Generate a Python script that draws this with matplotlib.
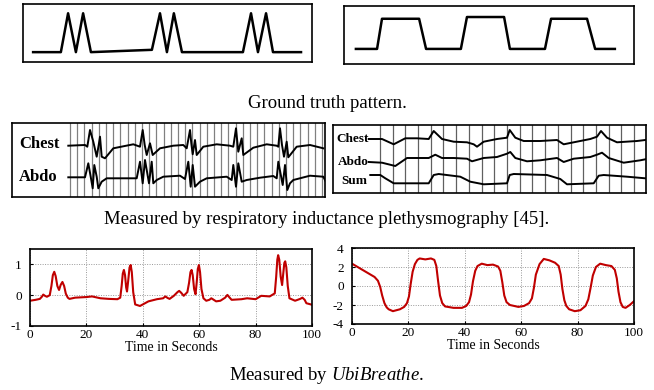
import numpy as np
import matplotlib
matplotlib.use("Agg")
import matplotlib.pyplot as plt

plt.rcParams['font.family'] = ['Liberation Serif', 'DejaVu Serif']
plt.rcParams['axes.unicode_minus'] = False
plt.rcParams['mathtext.fontset'] = 'custom'
plt.rcParams['mathtext.rm'] = 'Liberation Serif'
plt.rcParams['mathtext.it'] = 'Liberation Serif:italic'

# ground truth patterns (time 0-100, amplitude 0-1)
gt_fast_t = [3.5, 13.1, 15.6, 18.3, 20.8, 23.5, 44.6, 47.4, 49.8, 52.2, 55.0,
             76.1, 78.9, 81.3, 84.1, 86.5, 96.2]
gt_fast_v = [0.17, 0.17, 0.84, 0.17, 0.84, 0.17, 0.21, 0.84, 0.17, 0.84, 0.17,
             0.17, 0.84, 0.17, 0.84, 0.17, 0.17]
gt_slow_t = [4.1, 11.4, 13.1, 25.9, 28.3, 40.3, 42.4, 55.2, 57.2, 69.3, 71.4,
             83.8, 86.6, 93.4]
gt_slow_v = [0.26, 0.26, 0.78, 0.78, 0.26, 0.26, 0.81, 0.81, 0.26, 0.26, 0.78,
             0.78, 0.26, 0.26]

# respiratory inductance plethysmography, fast breathing
rip_fast_chest_t = [-1.7, 15.0, 17.3, 20.0, 23.3, 26.7, 28.7, 30.0, 31.7, 35.0, 43.3,
                    63.3, 70.0, 72.7, 74.7, 76.7, 80.0, 82.7, 90.0, 103.3, 113.3,
                    116.7, 120.0, 121.3, 122.7, 125.0, 126.7, 133.3, 146.7, 160.0,
                    163.3, 166.0, 167.3, 168.3, 171.7, 173.3, 183.3, 196.7, 206.7,
                    208.3, 210.0, 212.0, 214.0, 216.7, 218.3, 226.7, 240.0, 253.3]
rip_fast_chest_v = [0.3, 1.0, -0.7, 16.0, 4.3, -10.7, 1.0, 9.3, -10.7, -12.3, -2.3,
                    1.7, -0.7, 16.0, 1.0, -9.0, 2.7, -9.0, -2.3, 0.3, 1.0,
                    -2.3, 16.0, 2.7, -8.3, 6.0, -9.0, -0.7, 1.7, 0.3,
                    -0.7, 17.7, 4.3, -5.7, 7.7, -9.0, -1.7, 1.7, 0.3,
                    -0.7, 17.7, 1.0, -10.7, 4.3, -11.3, -0.7, 1.0, -2.3]
rip_fast_abdo_t = [-1.7, 15.0, 18.3, 20.7, 22.7, 24.3, 26.7, 28.3, 31.7, 36.7, 66.7,
                   70.0, 72.7, 75.0, 79.0, 81.7, 83.3, 86.7, 93.3, 110.0, 115.0,
                   118.3, 120.7, 122.7, 125.0, 130.0, 136.7, 156.7, 161.7, 163.3,
                   166.0, 168.3, 171.7, 176.7, 190.0, 203.3, 206.7, 208.3, 212.7,
                   215.0, 217.3, 220.0, 223.3, 240.0, 253.3, 256.7]
rip_fast_abdo_v = [-0.3, -0.3, 13.7, 0.3, -11.3, 12.0, 0.3, -11.3, -4.7, -1.3, -1.3,
                   15.3, -6.3, 17.0, -6.3, 15.3, -6.3, -3.0, 0.3, 1.3, -2.0,
                   15.3, -9.7, 12.0, -9.7, -4.7, -1.3, 0.3, -3.0, 12.0,
                   -9.7, 13.7, -4.7, -3.0, -0.7, 1.0, -1.3, 15.3, -8.0,
                   12.0, -13.0, -6.3, -3.0, 1.3, 0.3, -6.3]

# respiratory inductance plethysmography, slow breathing
rip_slow_t = [-11.3, 2.0, 13.7, 25.3, 37.0, 48.7, 53.7, 62.0, 73.7, 87.0, 93.7,
              97.0, 103.7, 117.0, 127.0, 129.7, 135.3, 143.7, 160.3, 177.0, 183.7,
              193.7, 210.3, 217.0, 221.0, 227.0, 237.0, 257.0, 265.3]
rip_slow_chest = [0, 0, -5.3, 0.7, 0.7, 0, 8.0, 0, -2.7, -3.3, -5.3,
                  -7.7, -2.7, 0, 1.3, 9.0, 1.3, -2.0, -2.0, -1.0, -5.3,
                  -3.3, 0, 2.3, 8.0, 1.3, -3.3, -2.0, -1.0]
rip_slow_abdo_t = [-11.3, 2.0, 15.3, 27.0, 48.7, 55.3, 62.0, 73.7, 87.0, 92.0,
                   103.7, 117.0, 127.0, 130.3, 135.3, 147.0, 160.3, 177.0, 183.7,
                   193.7, 210.3, 217.0, 222.0, 228.7, 243.7, 260.3, 265.3]
rip_slow_abdo = [0, -0.7, -4.0, 4.0, 4.0, 7.3, 4.0, 4.0, 3.3, 0.7,
                 4.0, 5.0, 8.3, 10.0, 4.0, 0.7, 1.7, 4.0, 0,
                 3.3, 5.0, 7.3, 9.3, 4.0, -0.7, 1.7, 2.7]
rip_slow_sum_t = [-9.7, 0.3, 5.3, 13.7, 27.0, 48.7, 53.7, 58.7, 80.3, 90.3,
                  103.7, 127.0, 129.7, 133.7, 167.0, 180.3, 187.0, 213.7, 218.7,
                  223.7, 247.0, 265.3]
rip_slow_sum = [0, 0, -3.3, -8.3, -8.3, -8.3, 0, 1.0, -1.7, -6.7,
                -9.3, -8.3, 0, 1.0, 0, -4.0, -9.3, -8.3, -0.7,
                0, -1.7, -3.3]

# UbiBreathe estimates
ubi_fast_t = [0, 2, 3.5, 4.2, 4.7, 5.3, 6, 7.0, 7.6, 8.1, 8.6, 9.1, 9.7, 10.3, 10.9,
              11.5, 12.1, 12.7, 13.4, 14, 16, 20, 22, 25, 28, 31, 32, 32.5, 32.9,
              33.3, 33.7, 34.1, 34.4, 34.8, 35.3, 35.7, 36.1, 36.6, 37.3, 39, 42,
              45, 47.2, 48, 48.8, 49.5, 51, 52.3, 52.9, 53.6, 54.5, 55.8, 56.4,
              56.9, 57.3, 57.7, 58.2, 58.7, 59.1, 59.5, 59.9, 60.3, 60.8, 61.5,
              62.5, 63.6, 64.3, 65.0, 66, 67.5, 69.2, 70, 70.8, 71.5, 75, 77, 80,
              82, 85, 86.8, 87.3, 87.7, 88.0, 88.4, 88.9, 89.4, 89.8, 90.2, 90.5,
              90.9, 91.4, 92, 94, 95.8, 96.6, 97.4, 98, 100]
ubi_fast_v = [-0.18, -0.15, -0.12, -0.05, 0.02, -0.02, -0.05, 0.0, 0.3, 0.65, 0.76,
              0.62, 0.3, 0.17, 0.34, 0.43, 0.3, 0.05, -0.08, -0.12, -0.08, -0.06,
              -0.04, -0.1, -0.12, -0.13, -0.08, 0.3, 0.7, 0.82, 0.65, 0.25, 0.12,
              0.45, 0.9, 0.98, 0.75, 0.1, -0.3, -0.35, -0.2, -0.13, -0.1, -0.04,
              -0.09, -0.12, -0.02, 0.1, 0.14, 0.08, -0.02, 0.1, 0.4, 0.75, 0.82,
              0.65, 0.2, 0.03, 0.4, 0.85, 0.98, 0.75, 0.2, -0.1, -0.18, -0.15,
              -0.1, -0.14, -0.2, -0.18, -0.08, 0.01, -0.08, -0.15, -0.13, -0.1,
              -0.13, -0.02, -0.04, 0.06, 0.6, 1.15, 1.3, 1.15, 0.6, 0.33, 0.7,
              1.05, 1.1, 0.9, 0.3, -0.1, -0.18, -0.12, -0.08, -0.15, -0.26, -0.31]
ubi_slow_t = [0, 2, 4, 6, 8, 9.2, 10.0, 10.7, 11.5, 12.3, 13, 14.5, 17, 18.5, 19.5,
              20.2, 20.8, 21.5, 22.3, 23.2, 24, 26, 28, 29.2, 29.9, 30.5, 31.2,
              32, 33, 36, 39, 40.5, 41.5, 42.2, 42.9, 43.7, 44.5, 46, 48, 50, 51.8,
              52.6, 53.3, 54, 54.8, 56, 59, 61, 62.8, 63.8, 64.5, 65.2, 66.5, 68,
              70, 72, 73.3, 74.0, 74.6, 75.3, 76, 77, 79, 81, 82.8, 83.8, 84.6,
              85.4, 86.5, 88, 90, 92, 93.2, 93.9, 94.5, 95.2, 96, 97, 98.5, 100]
ubi_slow_v = [2.35, 2.0, 1.65, 1.3, 0.95, 0.55, -0.1, -1.0, -1.8, -2.25, -2.45,
              -2.65, -2.45, -2.2, -1.8, -1.1, 0.2, 1.5, 2.3, 2.75, 2.9, 2.8, 2.9,
              2.75, 2.1, 0.6, -1.0, -1.8, -2.15, -2.3, -2.3, -2.1, -1.7, -0.9,
              0.5, 1.6, 2.1, 2.35, 2.2, 2.25, 2.05, 1.6, 0.4, -1.0, -1.7, -2.0,
              -2.2, -2.1, -1.8, -1.3, -0.2, 1.2, 2.3, 2.85, 2.7, 2.45, 2.1, 1.2,
              -0.3, -1.5, -2.1, -2.45, -2.65, -2.55, -2.1, -1.4, -0.2, 1.1, 2.0,
              2.35, 2.2, 2.1, 1.7, 0.8, -0.6, -1.7, -2.2, -2.3, -2.0, -1.6]

W, H = 654, 390
fig = plt.figure(figsize=(W / 100, H / 100), dpi=100)


def box(x0, y0, x1, y1):
    return fig.add_axes([x0 / W, 1 - y1 / H, (x1 - x0) / W, (y1 - y0) / H])


def plain(ax):
    ax.set_xticks([])
    ax.set_yticks([])
    for s in ax.spines.values():
        s.set_linewidth(1.2)


# --- ground truth
ax = box(23, 4, 312, 62)
ax.plot(gt_fast_t, gt_fast_v, color='black', lw=1.8)
ax.set_xlim(0, 100)
ax.set_ylim(0, 1)
plain(ax)

ax = box(344, 6, 634, 64)
ax.plot(gt_slow_t, gt_slow_v, color='black', lw=1.8)
ax.set_xlim(0, 100)
ax.set_ylim(0, 1)
plain(ax)

fig.text(0.5, 1 - 103 / H, 'Ground truth pattern.', ha='center', va='center',
         fontsize=13.5)

# --- RIP recordings
grid_step_fast = 7.2
ax = box(12, 123, 325, 197)
for g in np.arange(0, 256, grid_step_fast):
    ax.axvline(g, color='#808080', lw=0.9)
ax.plot(rip_fast_chest_t, np.array(rip_fast_chest_v) + 51, color='black', lw=1.4)
ax.plot(rip_fast_abdo_t, np.array(rip_fast_abdo_v) + 20, color='black', lw=1.4)
ax.text(-51, 53, 'Chest', fontsize=12, fontweight='bold', va='center')
ax.text(-51, 20, 'Abdo', fontsize=12, fontweight='bold', va='center')
ax.set_xlim(-58, 255)
ax.set_ylim(0, 74)
plain(ax)

grid_step_slow = 12.7
ax = box(333, 125, 646, 193)
for g in np.arange(0, 262, grid_step_slow):
    ax.axvline(g, color='#606060', lw=0.9)
ax.plot(rip_slow_t, np.array(rip_slow_chest) + 54, color='black', lw=1.4)
ax.plot(rip_slow_abdo_t, np.array(rip_slow_abdo) + 31, color='black', lw=1.4)
ax.plot(rip_slow_sum_t, np.array(rip_slow_sum) + 18, color='black', lw=1.4)
ax.text(-11, 54, 'Chest', fontsize=9.5, fontweight='bold', va='center', ha='right')
ax.text(-11, 31, 'Abdo', fontsize=9.5, fontweight='bold', va='center', ha='right')
ax.text(-13, 12, 'Sum', fontsize=9.5, fontweight='bold', va='center', ha='right')
ax.set_xlim(-47, 266)
ax.set_ylim(0, 68)
plain(ax)

fig.text(0.5, 1 - 219 / H,
         'Measured by respiratory inductance plethysmography [45].',
         ha='center', va='center', fontsize=13.5)


# --- UbiBreathe
def ubi_axes(ax, yticks):
    ax.set_xlim(0, 100)
    ax.set_xticks([0, 20, 40, 60, 80, 100])
    ax.set_yticks(yticks)
    ax.grid(True, color='#999999', ls=(0, (1, 1.5)), lw=0.7)
    ax.tick_params(direction='in', length=2, labelsize=9.5)
    ax.tick_params(axis='x', pad=2)
    ax.tick_params(axis='y', pad=6)
    for s in ax.spines.values():
        s.set_linewidth(1.2)
    ax.set_xlabel('Time in Seconds', fontsize=10, labelpad=0)


ax = box(30, 249, 312, 326)
ax.plot(ubi_fast_t, ubi_fast_v, color='#c00000', lw=1.5)
ax.set_ylim(-1, 1.5)
ubi_axes(ax, [-1, 0, 1])

ax = box(352, 248, 634, 324)
ax.plot(ubi_slow_t, ubi_slow_v, color='#c00000', lw=1.5)
ax.set_ylim(-4, 4)
ubi_axes(ax, [-4, -2, 0, 2, 4])

fig.text(0.5, 1 - 376 / H, r'Measured by $\mathit{UbiBreathe}$.',
         ha='center', va='center', fontsize=13.5)

fig.savefig('out.png', dpi=100)
